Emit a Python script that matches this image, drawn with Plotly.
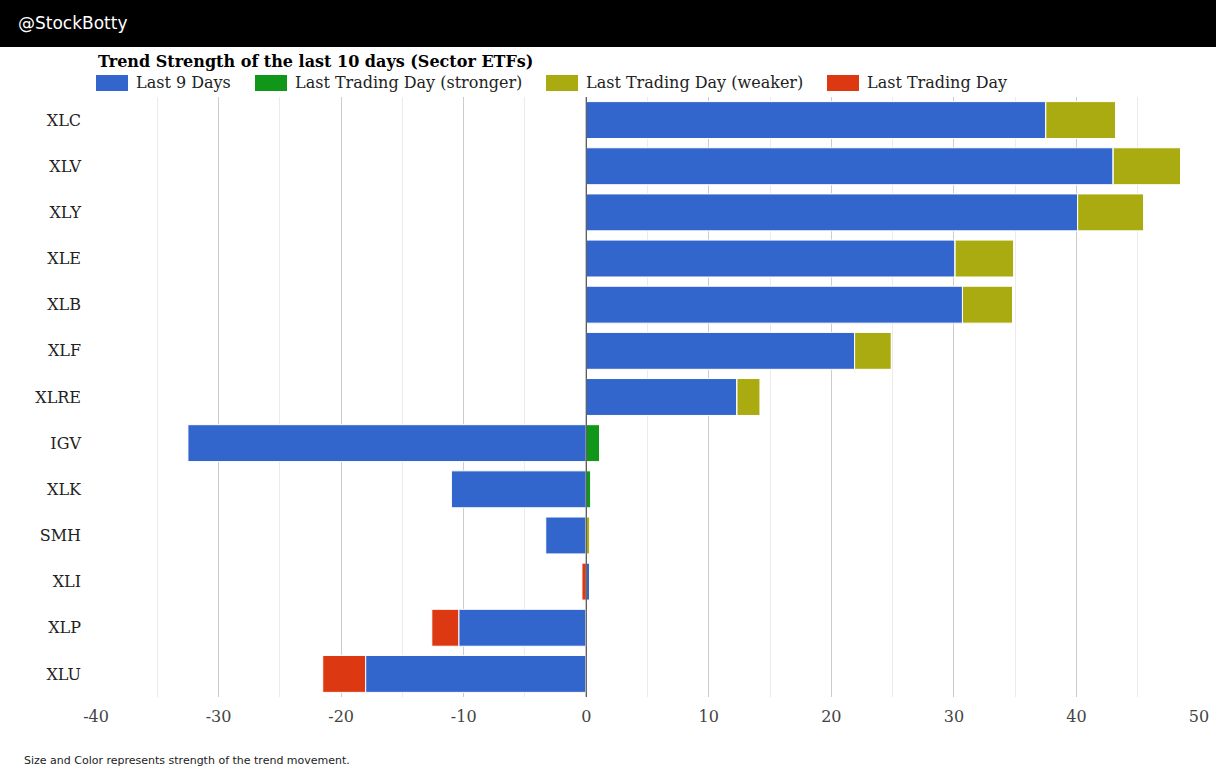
import plotly.graph_objects as go

tickers = ["XLC", "XLV", "XLY", "XLE", "XLB", "XLF", "XLRE", "IGV", "XLK", "SMH", "XLI", "XLP", "XLU"]
last9 = [37.5, 43.0, 40.1, 30.1, 30.7, 21.9, 12.3, -32.5, -11.0, -3.3, 0.3, -10.4, -18.0]
stronger = [0, 0, 0, 0, 0, 0, 0, 1.1, 0.4, 0, 0, 0, 0]
weaker = [5.7, 5.5, 5.4, 4.8, 4.1, 3.0, 1.9, 0, 0, 0.3, 0, 0, 0]
lastday = [0, 0, 0, 0, 0, 0, 0, 0, 0, 0, -0.35, -2.2, -3.5]
x_ticks = [-40, -30, -20, -10, 0, 10, 20, 30, 40, 50]
x_tick_labels = ["-40", "-30", "-20", "-10", "0", "10", "20", "30", "40", "50"]

series = [
    ("Last 9 Days", last9, "#3366cc"),
    ("Last Trading Day (stronger)", stronger, "#109618"),
    ("Last Trading Day (weaker)", weaker, "#aaaa11"),
    ("Last Trading Day", lastday, "#dc3912"),
]

W, H = 1216, 769
L, R, T, B = 96, 17, 97, 72
pw, ph = W - L - R, H - T - B

def px(x):
    return (x - L) / pw

def py(y):
    return (H - B - y) / ph

fig = go.Figure()
for name, vals, col in series:
    fig.add_trace(go.Bar(
        y=tickers, x=vals, name=name, orientation="h",
        marker=dict(color=col, line=dict(color="white", width=1)),
        showlegend=False,
    ))

serif = "DejaVu Serif"
shapes = [
    dict(type="rect", xref="paper", yref="paper", x0=px(-20), x1=px(W + 60), y0=py(-20), y1=py(47),
         fillcolor="black", line=dict(width=0), layer="above"),
    dict(type="line", xref="x", yref="paper", x0=0, x1=0, y0=0, y1=1,
         line=dict(color="#333333", width=1), layer="above"),
]
annotations = [
    dict(text="@StockBotty", xref="paper", yref="paper", x=px(16), y=py(23), xanchor="left",
         yanchor="middle", showarrow=False, font=dict(family="DejaVu Sans", size=17, color="white")),
    dict(text="<b>Trend Strength of the last 10 days (Sector ETFs)</b>", xref="paper", yref="paper",
         x=px(96), y=py(62), xanchor="left", yanchor="middle", showarrow=False,
         font=dict(family=serif, size=16, color="black")),
    dict(text="Size and Color represents strength of the trend movement.", xref="paper", yref="paper",
         x=px(22), y=py(760), xanchor="left", yanchor="middle", showarrow=False,
         font=dict(family="DejaVu Sans", size=11, color="#222222")),
]
leg_x = [96, 255, 546, 827]
for (name, vals, col), lx in zip(series, leg_x):
    shapes.append(dict(type="rect", xref="paper", yref="paper", x0=px(lx), x1=px(lx + 32),
                       y0=py(75), y1=py(91), fillcolor=col, line=dict(width=0)))
    annotations.append(dict(text=name, xref="paper", yref="paper", x=px(lx + 38), y=py(83),
                            xanchor="left", yanchor="middle", showarrow=False,
                            font=dict(family=serif, size=16, color="#222222")))

fig.update_layout(
    width=W, height=H,
    margin=dict(l=L, r=R, t=T, b=B, pad=0, autoexpand=False),
    barmode="relative", bargap=0.2,
    paper_bgcolor="white", plot_bgcolor="white",
    font=dict(family=serif, size=16, color="#222222"),
    shapes=shapes, annotations=annotations,
    xaxis=dict(range=[-40, 50], tickmode="array", tickvals=x_ticks, ticktext=x_tick_labels,
               showgrid=True, gridcolor="#cccccc", gridwidth=1, zeroline=False, automargin=False,
               minor=dict(dtick=5, tick0=0, showgrid=True, gridcolor="#ebebeb"),
               tickfont=dict(family=serif, size=16, color="#444444"), ticklabelstandoff=8,
               showline=False, fixedrange=True),
    yaxis=dict(autorange="reversed", showgrid=False, zeroline=False, automargin=False,
               tickfont=dict(family=serif, size=16, color="#222222"), ticklabelstandoff=14,
               fixedrange=True),
)

post = ("var s=document.createElement('style');"
        "s.textContent='html,body{margin:0;padding:0;overflow:hidden;}';"
        "document.head.appendChild(s);")
fig.write_html("out.html", config={"displayModeBar": False, "responsive": False}, post_script=post)
